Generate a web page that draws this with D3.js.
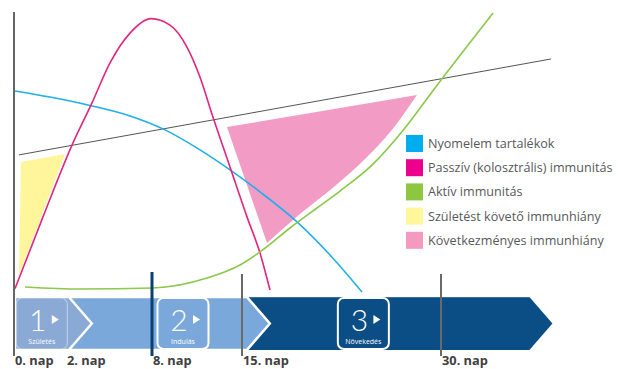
<!DOCTYPE html>
<html lang="hu">
<head>
<meta charset="utf-8">
<title>Immunitás</title>
<script src="https://d3js.org/d3.v7.min.js"></script>
<style>
  body { margin: 0; background: #fff; }
  svg { display: block; font-family: "Open Sans", "Noto Sans", sans-serif; }
  .legend text { fill: #58595b; font-size: 12.6px; }
  .daylabel { fill: #3f3f3f; font-size: 12.8px; font-weight: 700; }
</style>
</head>
<body>
<svg width="618" height="369"></svg>
<script>
// days on the time axis, values 0..100
var tickDays = [0, 2, 8, 15, 30];
var tickLabels = ["0. nap", "2. nap", "8. nap", "15. nap", "30. nap"];
var markerDays = [8, 15, 30];

// Passzív (kolosztrális) immunitás
var passiveDays = [0.04, 1.115, 2.488, 3.814, 5.07, 6.465, 7.93, 9.4, 10.72, 11.73, 12.74, 14.07, 15.377, 16.357, 17.11];
var passiveVals = [0.5, 26.3, 52.9, 67.3, 81.7, 92.4, 97.6, 95.3, 87.4, 76.6, 62.2, 44.2, 26.3, 13.3, 0];
// Nyomelem tartalékok
var traceDays = [0.04, 1.385, 3.814, 6.465, 9.011, 11.733, 14.07, 16.357, 19.146, 21.633, 24.045];
var traceVals = [71.6, 69.4, 66.2, 62.6, 57.6, 50.4, 43.2, 35.3, 24.5, 12.6, -0.7];
// Aktív immunitás
var activeDays = [0.423, 2.977, 8.078, 12.278, 14.844, 16.357, 18.618, 20.653, 22.387, 24.874, 27.286, 29.774, 33.92];
var activeVals = [1.1, 0.36, 0.72, 4.3, 9.0, 13.7, 22.3, 29.5, 35.6, 45.3, 58.3, 74.1, 99.6];
// vékony szürke referencia vonal
var refDays = [0.19, 38.29];
var refVals = [48.6, 83.1];
// Születést követő immunhiány
var gapDays = [0.27, 1.96, 0.19];
var gapVals = [46.0, 48.9, 5.4];
// Következményes immunhiány: bal felső sarok, majd az alsó saroktól a jobb felső csúcsig
var laterDays = [13.833, 16.884, 19.372, 22.01, 24.271, 26.306, 28.19];
var laterVals = [58.6, 16.9, 27.3, 37.4, 47.1, 57.6, 70.1];

var legendNames = ["Nyomelem tartalékok", "Passzív (kolosztrális) immunitás", "Aktív immunitás",
  "Születést követő immunhiány", "Következményes immunhiány"];
var legendColors = ["#00aeef", "#ec008c", "#8dc63f", "#fff799", "#f49ac1"];

var phaseNums = ["1", "2", "3"];
var phaseNames = ["Születés", "Indulás", "Növekedés"];
var phaseBoxDays = [0.05, 8.35, 22.15];
var phaseTipDays = [3.8, 17.1, 38.4];

var svg = d3.select("svg");

var x = d3.scaleLinear().domain(tickDays).range([14, 66, 152, 242, 441]);
var y = d3.scaleLinear().domain([0, 100]).range([290, 12]);

function pts(ds, vs) { return ds.map(function(d, i) { return [x(d), y(vs[i])]; }); }

var line = d3.line().curve(d3.curveMonotoneX);

// shaded areas
svg.append("path")
  .attr("d", d3.line()(pts(gapDays, gapVals)) + "Z")
  .attr("fill", "#fff59a");

var later = pts(laterDays, laterVals);
svg.append("path")
  .attr("d", "M" + later[0] + "L" + line(later.slice(1)).slice(1) + "Z")
  .attr("fill", "#f29cc5");

// reference line
svg.append("path")
  .attr("d", d3.line()(pts(refDays, refVals)))
  .attr("stroke", "#555").attr("stroke-width", 1).attr("fill", "none");

// curves
[[traceDays, traceVals, "#1fb0ea"], [passiveDays, passiveVals, "#e2267f"], [activeDays, activeVals, "#8cc84b"]]
  .forEach(function(c) {
    svg.append("path")
      .attr("d", line(pts(c[0], c[1])))
      .attr("fill", "none")
      .attr("stroke", c[2])
      .attr("stroke-width", 1.6);
  });

// stage band
var b0 = 297, b1 = 350, bm = (b0 + b1) / 2, dep = 23;
var tip2 = x(phaseTipDays[1]), tip3 = x(phaseTipDays[2]);
svg.append("polygon")
  .attr("points", [[x(0) + 1, b0], [tip3 - dep, b0], [tip3, bm], [tip3 - dep, b1], [x(0) + 1, b1]].join(" "))
  .attr("fill", "#0b4d85");
svg.append("polygon")
  .attr("points", [[x(0) + 1, b0], [tip2 - dep, b0], [tip2, bm], [tip2 - dep, b1], [x(0) + 1, b1]].join(" "))
  .attr("fill", "#7ba8db")
  .attr("stroke", "#fff").attr("stroke-width", 2.5);
var tip1 = x(phaseTipDays[0]);
svg.append("polygon")
  .attr("points", [[x(0) + 1, b0], [tip1 - dep, b0], [tip1, bm], [tip1 - dep, b1], [x(0) + 1, b1]].join(" "))
  .attr("fill", "#8aa9d5")
  .attr("stroke", "#fff").attr("stroke-width", 2.5);
// mask top/bottom borders of the band
svg.append("rect").attr("x", 0).attr("y", b0 - 3).attr("width", 618).attr("height", 3.2).attr("fill", "#fff");
svg.append("rect").attr("x", 0).attr("y", b1).attr("width", 618).attr("height", 4).attr("fill", "#fff");

var boxW = 51;
var boxes = svg.selectAll(".box").data(phaseNums).enter().append("g")
  .attr("transform", function(d, i) { return "translate(" + x(phaseBoxDays[i]) + "," + b0 + ")"; });
boxes.append("rect")
  .attr("x", 1).attr("y", 1).attr("width", boxW).attr("height", b1 - b0 - 2)
  .attr("rx", 6)
  .attr("fill", function(d, i) { return i == 0 ? "#8aa9d5" : "none"; })
  .attr("stroke", "#fff").attr("stroke-width", function(d, i) { return i == 0 ? 1 : 2; })
  .attr("stroke-opacity", function(d, i) { return i == 0 ? 0.5 : 1; });
boxes.append("text")
  .attr("x", boxW / 2 - 3).attr("y", 34)
  .attr("text-anchor", "middle")
  .attr("fill", "#fff")
  .style("font-family", "Lato, 'Open Sans', sans-serif")
  .style("font-weight", 300)
  .style("font-size", "30px")
  .text(function(d) { return d; });
boxes.append("path")
  .attr("d", "M" + (boxW / 2 + 11) + ",18 l7,4.5 l-7,4.5 Z")
  .attr("fill", "#fff");
boxes.append("text")
  .attr("x", boxW / 2 + 1).attr("y", 47)
  .attr("text-anchor", "middle")
  .attr("fill", "#fff")
  .style("font-size", "7px")
  .text(function(d, i) { return phaseNames[i]; });

// axis + day markers
svg.append("line")
  .attr("x1", x(0)).attr("x2", x(0)).attr("y1", 12).attr("y2", 356)
  .attr("stroke", "#666").attr("stroke-width", 2);
svg.selectAll(".marker").data(markerDays).enter().append("line")
  .attr("x1", function(d) { return x(d); }).attr("x2", function(d) { return x(d); })
  .attr("y1", function(d) { return d == 8 ? 272 : 274; }).attr("y2", 356)
  .attr("stroke", function(d) { return d == 8 ? "#0d3f6e" : "#6a6a6a"; })
  .attr("stroke-width", function(d) { return d == 8 ? 3 : 2; });

svg.selectAll(".daylabel").data(tickDays).enter().append("text")
  .attr("class", "daylabel")
  .attr("x", function(d) { return x(d) + 1; })
  .attr("y", 365)
  .text(function(d, i) { return tickLabels[i]; });

// legend
var lg = svg.append("g").attr("class", "legend").attr("transform", "translate(406,135)");
var items = lg.selectAll("g").data(legendNames).enter().append("g")
  .attr("transform", function(d, i) { return "translate(0," + i * 24.2 + ")"; });
items.append("rect").attr("width", 17).attr("height", 17)
  .attr("fill", function(d, i) { return legendColors[i]; });
items.append("text").attr("x", 22).attr("y", 13).text(function(d) { return d; });
</script>
</body>
</html>
